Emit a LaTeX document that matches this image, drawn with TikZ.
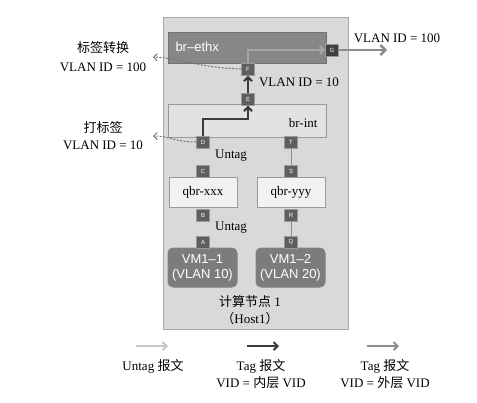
\documentclass[tikz,border=0pt]{standalone}
\usepackage{fontspec}
\setmainfont{Liberation Serif}
\newfontfamily\cjk{Noto Sans CJK SC}
\newfontfamily\sansf{Liberation Sans}
\usetikzlibrary{arrows.meta}

\definecolor{hostfill}{HTML}{D9D9D9}
\definecolor{ethxfill}{HTML}{878787}
\definecolor{intfill}{HTML}{E2E2E2}
\definecolor{qbrfill}{HTML}{F2F2F2}
\definecolor{vmfill}{HTML}{7C7C7C}
\definecolor{portfill}{HTML}{5E5E5E}
\definecolor{tagin}{HTML}{3C3C3C}
\definecolor{tagout}{HTML}{8C8C8C}
\definecolor{untag}{HTML}{C6C6C6}

\tikzset{
  lbl/.style={font=\fontsize{13}{15}\selectfont, inner sep=0pt, align=center},
  port/.style={rectangle, draw=black!40, fill=portfill, text=white, inner sep=0pt,
    minimum width=13pt, minimum height=12pt, font=\sansf\fontsize{6}{6}\selectfont},
  brbox/.style={rectangle, draw=black!40, line width=1pt, inner sep=0pt},
  vmbox/.style={rectangle, rounded corners=5pt, draw=black!50, fill=vmfill, text=white,
    line width=1pt, minimum width=69pt, minimum height=39pt, align=center,
    font=\sansf\fontsize{13}{15}\selectfont},
}

\begin{document}
\begin{tikzpicture}[x=1pt, y=-1pt, line width=1pt]
\useasboundingbox (0,0) rectangle (477,402);
% host and bridges
\draw (255.5,173) node[rectangle, draw=black!35, fill=hostfill, minimum width=185pt, minimum height=312pt](host){}
    (247,47.5) node[brbox, fill=ethxfill, draw=black!55, minimum width=158pt, minimum height=31pt](ethx){}
    (247,120.5) node[brbox, fill=intfill, minimum width=158pt, minimum height=33pt](brint){}
    (203,192) node[brbox, fill=qbrfill, minimum width=68pt, minimum height=30pt, lbl](qbrx){qbr-xxx}
    (291,192) node[brbox, fill=qbrfill, minimum width=68pt, minimum height=30pt, lbl](qbry){qbr-yyy}
    (202.5,267.5) node[vmbox](vm1){VM1–1\\(VLAN 10)}
    (290.5,267.5) node[vmbox](vm2){VM1–2\\(VLAN 20)};
\node[anchor=west, text=white, font=\sansf\fontsize{13}{15}\selectfont, inner sep=0pt] (ethxname) at (175,47) {br–ethx};
\node[anchor=east, lbl] (brintname) at (318,123) {br-int};
\node[lbl] (hostname) at (250,302) {{\cjk 计算节点} 1};
\node[lbl] (hostid) at (250,319) {{\cjk （}Host1{\cjk ）}};
% ports
\draw (332,50) node[port, fill=black!75](g){G}
    (248,69) node[port](f){F}
    (248,99) node[port](e){E}
    (203,142) node[port](d){D}
    (291,142) node[port](t){T}
    (203,171) node[port](c){C}
    (291,171) node[port](s){S}
    (203,215) node[port](b){B}
    (291,215) node[port](r){R}
    (203,242) node[port](a){A}
    (291,242) node[port](q){Q};
% links
\draw [-, black!45] (t) -- (s);
\draw [-, black!45] (r) -- (q);
\coordinate (bend) at (248,119);
\coordinate (out) at (387,50);
\draw [-{Straight Barb[length=4pt]}, tagin, line width=2.2pt] (d.north) |- (bend) -- (e.south);
\draw [-{Straight Barb[length=4pt]}, tagin, line width=2.2pt] (e.north) -- (f.south);
\draw [-{Straight Barb[length=4pt]}, black!35, line width=1.8pt] (f.north) |- (g.west);
\draw [-{Straight Barb[length=5pt]}, tagout, line width=2.4pt] (g.east) -- (out);
% retag hints
\coordinate (hint1) at (153,57);
\coordinate (hint2) at (153,136);
\draw [-{Straight Barb[length=3.5pt]}, black!55, dash pattern=on 2pt off 1.5pt] (f.west) .. controls (200,68) and (180,58) .. (hint1);
\draw [-{Straight Barb[length=3.5pt]}, black!55, dash pattern=on 2pt off 1.5pt] (d.west) .. controls (175,142) and (170,136) .. (hint2);
% labels
\node[lbl] (tagswap) at (103,48) {\cjk 标签转换};
\node[lbl] (tagswapid) at (103,67) {VLAN ID = 100};
\node[lbl] (tagadd) at (103,128) {\cjk 打标签};
\node[lbl] (tagaddid) at (103,145) {VLAN ID = 10};
\node[lbl] (innerid) at (299,82) {VLAN ID = 10};
\node[lbl] (outerid) at (397,38) {VLAN ID = 100};
\node[lbl] (untag1) at (231,156) {Untag};
\node[lbl] (untag2) at (231,228) {Untag};
% legend
\coordinate (k1a) at (136,346); \coordinate (k1b) at (168,346);
\coordinate (k2a) at (247,346); \coordinate (k2b) at (279,346);
\coordinate (k3a) at (367,346); \coordinate (k3b) at (399,346);
\draw [-{Straight Barb[length=4pt]}, untag, line width=2pt] (k1a) -- (k1b);
\draw [-{Straight Barb[length=4pt]}, tagin, line width=2pt] (k2a) -- (k2b);
\draw [-{Straight Barb[length=4pt]}, tagout, line width=2pt] (k3a) -- (k3b);
\node[lbl] (key1) at (153,366) {Untag {\cjk 报文}};
\node[lbl, anchor=north] (key2) at (261,359) {Tag {\cjk 报文}\\[2pt]VID = {\cjk 内层} VID};
\node[lbl, anchor=north] (key3) at (385,359) {Tag {\cjk 报文}\\[2pt]VID = {\cjk 外层} VID};
\end{tikzpicture}
\end{document}
